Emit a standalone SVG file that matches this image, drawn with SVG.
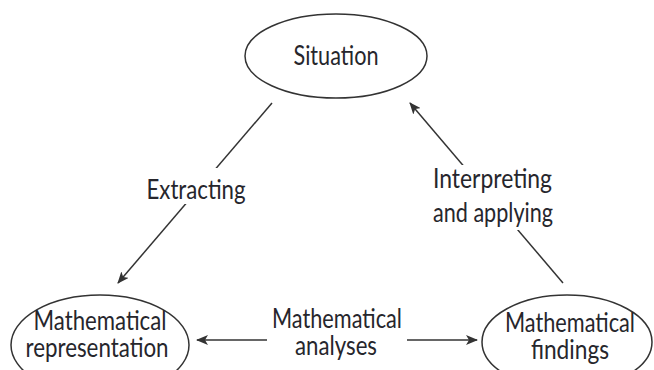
<svg xmlns="http://www.w3.org/2000/svg" width="654" height="370" viewBox="0 0 654 370">
<style>
.node{fill:#fff;stroke:#333;stroke-width:1.5}
.t{font-family:Lato,"Liberation Sans",sans-serif;font-size:27px;fill:#26262c;text-anchor:middle}
.tl{font-family:Lato,"Liberation Sans",sans-serif;font-size:27px;fill:#26262c}
.c{stroke:#333;stroke-width:1.5;fill:none}
.bg{fill:#fff}
</style>
<defs>
<marker id="ah" viewBox="0 0 12 10" refX="11" refY="5" markerWidth="12" markerHeight="10" markerUnits="userSpaceOnUse" orient="auto">
<path d="M0,0 L12,5 L0,10 L3,5 Z" fill="#333"/>
</marker>
</defs>
<rect width="654" height="370" fill="#fff"/>
<g id="connectors">
<line class="c" x1="272" y1="103" x2="118" y2="283" marker-end="url(#ah)"/>
<line class="c" x1="563" y1="283" x2="410" y2="103" marker-end="url(#ah)"/>
<line class="c" x1="267" y1="340" x2="197" y2="340" marker-end="url(#ah)"/>
<line class="c" x1="407" y1="340" x2="477" y2="340" marker-end="url(#ah)"/>
</g>
<g id="label-extracting">
<rect class="bg" x="143" y="168" width="106" height="36"/>
<text class="t" x="196" y="199" textLength="99" lengthAdjust="spacingAndGlyphs">Extracting</text>
</g>
<g id="label-interpreting">
<rect class="bg" x="430" y="165" width="126" height="65"/>
<text class="tl" x="433" y="188" textLength="119" lengthAdjust="spacingAndGlyphs">Interpreting</text>
<text class="tl" x="433" y="222" textLength="120" lengthAdjust="spacingAndGlyphs">and applying</text>
</g>
<g id="label-analyses">
<text class="t" x="337" y="328" textLength="130" lengthAdjust="spacingAndGlyphs">Mathematical</text>
<text class="t" x="336" y="355" textLength="82" lengthAdjust="spacingAndGlyphs">analyses</text>
</g>
<g id="situation">
<ellipse class="node" cx="336" cy="56" rx="91" ry="42"/>
<text class="t" x="336" y="65" textLength="85" lengthAdjust="spacingAndGlyphs">Situation</text>
</g>
<g id="representation">
<ellipse class="node" cx="100" cy="345" rx="89" ry="50"/>
<text class="t" x="100" y="330" textLength="133" lengthAdjust="spacingAndGlyphs">Mathematical</text>
<text class="t" x="97" y="357" textLength="143" lengthAdjust="spacingAndGlyphs">representation</text>
</g>
<g id="findings">
<ellipse class="node" cx="567" cy="342" rx="85" ry="47"/>
<text class="t" x="570" y="332" textLength="130" lengthAdjust="spacingAndGlyphs">Mathematical</text>
<text class="t" x="570" y="359" textLength="78" lengthAdjust="spacingAndGlyphs">findings</text>
</g>
</svg>
